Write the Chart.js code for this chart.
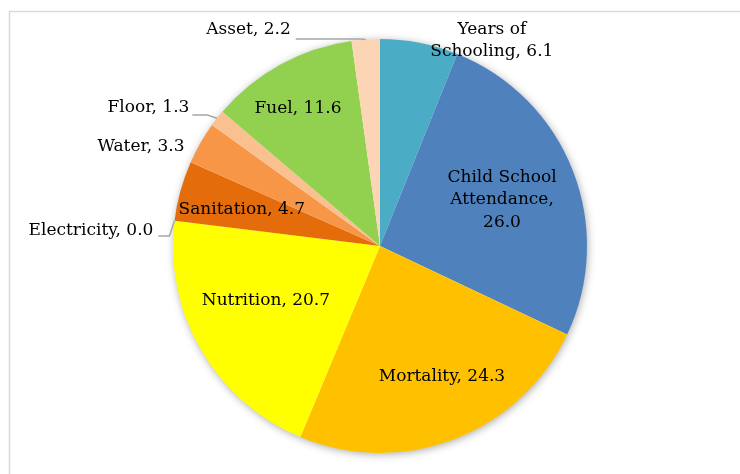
<!DOCTYPE html>
<html>
<head>
<meta charset="utf-8">
<script src="https://cdn.jsdelivr.net/npm/chart.js@4.4.1/dist/chart.umd.min.js"></script>
<style>
  html, body { margin: 0; padding: 0; background: #ffffff; }
  canvas { display: block; }
</style>
</head>
<body>
<canvas id="pie" width="740" height="474"></canvas>
<script>
// Indicator shares of the deprivation index (percent)
const categories = ['Years of Schooling', 'Child School Attendance', 'Mortality', 'Nutrition',
                    'Electricity', 'Sanitation', 'Water', 'Floor', 'Fuel', 'Asset'];
const shares = [6.1, 26.0, 24.3, 20.7, 0.0, 4.7, 3.3, 1.3, 11.6, 2.2];
const sliceColors = ['#4BACC6', '#4F81BD', '#FFC000', '#FFFF00', '#C0504D',
                     '#E46C0A', '#F79646', '#FAC090', '#92D050', '#FCD5B5'];

// Where each data label sits: radius as a fraction of the pie radius,
// angular shift (degrees, clockwise) from the slice's middle, optional wrap width
// and optional leader line back to the slice.
const labelPlacement = [
  { r: 1.13,  da: 17.6,  wrap: 135 },
  { r: 0.63,  da: 0.7,   wrap: 135 },
  { r: 0.70,  da: -4.3 },
  { r: 0.61,  da: 4.8 },
  { r: 1.398, da: -4.04, leader: { dy: 5, gap: 5, run: 11 } },
  { r: 0.69,  da: -0.85 },
  { r: 1.25,  da: -7.3 },
  { r: 1.302, da: -7.3,  leader: { dy: 7, gap: 3, run: 15 } },
  { r: 0.775, da: -2 },
  { r: 1.2217, da: -27.38, leader: { dy: 9, gap: 5, run: 65 } }
];

const LABEL_FONT = '17px "DejaVu Serif"';
const LINE_HEIGHT = 22.5;

function wrapWords(ctx, text, maxWidth) {
  if (!maxWidth) return [text];
  const words = text.split(' ');
  const lines = [];
  let cur = '';
  for (const w of words) {
    const test = cur ? cur + ' ' + w : w;
    if (cur && ctx.measureText(test).width > maxWidth) {
      lines.push(cur);
      cur = w;
    } else {
      cur = test;
    }
  }
  if (cur) lines.push(cur);
  return lines;
}

// White page with the light chart-frame edges
const framePlugin = {
  id: 'frame',
  beforeDraw(chart) {
    const ctx = chart.ctx;
    ctx.save();
    ctx.fillStyle = '#ffffff';
    ctx.fillRect(0, 0, chart.width, chart.height);
    ctx.strokeStyle = '#D9D9D9';
    ctx.lineWidth = 1.5;
    ctx.beginPath();
    ctx.moveTo(9.5, chart.height);
    ctx.lineTo(9.5, 11.5);
    ctx.lineTo(chart.width, 11.5);
    ctx.stroke();
    ctx.restore();
  }
};

// Soft shadow beneath the whole pie
const pieShadowPlugin = {
  id: 'pieShadow',
  beforeDatasetsDraw(chart) {
    const arc = chart.getDatasetMeta(0).data[0];
    if (!arc) return;
    const ctx = chart.ctx;
    ctx.save();
    ctx.shadowColor = 'rgba(0,0,0,0.35)';
    ctx.shadowBlur = 8;
    ctx.shadowOffsetX = 1;
    ctx.shadowOffsetY = 1.5;
    ctx.fillStyle = '#ffffff';
    ctx.beginPath();
    ctx.arc(arc.x, arc.y, arc.outerRadius - 0.5, 0, Math.PI * 2);
    ctx.fill();
    ctx.restore();
  }
};

// "Category, value" labels with leader lines for the thin slices
const sliceLabelPlugin = {
  id: 'sliceLabels',
  afterDatasetsDraw(chart) {
    const ctx = chart.ctx;
    const meta = chart.getDatasetMeta(0);
    ctx.save();
    ctx.font = LABEL_FONT;
    ctx.fillStyle = '#000000';
    ctx.textAlign = 'center';
    ctx.textBaseline = 'middle';
    meta.data.forEach((arc, i) => {
      const p = labelPlacement[i];
      const { x, y, startAngle, endAngle, outerRadius } = arc.getProps(
        ['x', 'y', 'startAngle', 'endAngle', 'outerRadius'], true);
      const mid = (startAngle + endAngle) / 2;
      const a = mid + p.da * Math.PI / 180;
      const cx = x + p.r * outerRadius * Math.cos(a);
      const cy = y + p.r * outerRadius * Math.sin(a);
      const text = categories[i] + ', ' + shares[i].toFixed(1);
      const lines = wrapWords(ctx, text, p.wrap);
      const top = cy - (lines.length - 1) * LINE_HEIGHT / 2;
      let maxW = 0;
      lines.forEach((ln, k) => {
        ctx.fillText(ln, cx, top + k * LINE_HEIGHT);
        maxW = Math.max(maxW, ctx.measureText(ln).width);
      });
      if (p.leader) {
        const L = p.leader;
        const sx = cx + maxW / 2 + L.gap;
        const sy = cy + L.dy;
        const ex = x + outerRadius * Math.cos(mid);
        const ey = y + outerRadius * Math.sin(mid);
        ctx.save();
        ctx.strokeStyle = '#A6A6A6';
        ctx.lineWidth = 1.5;
        ctx.beginPath();
        ctx.moveTo(sx, sy);
        ctx.lineTo(sx + L.run, sy);
        ctx.lineTo(ex, ey);
        ctx.stroke();
        ctx.restore();
      }
    });
    ctx.restore();
  }
};

new Chart(document.getElementById('pie'), {
  type: 'pie',
  data: {
    labels: categories,
    datasets: [{
      data: shares,
      backgroundColor: sliceColors,
      borderWidth: 0
    }]
  },
  options: {
    responsive: false,
    animation: false,
    layout: { padding: { left: 173, right: 153, top: 39, bottom: 21 } },
    plugins: {
      legend: { display: false },
      tooltip: { enabled: false }
    }
  },
  plugins: [framePlugin, pieShadowPlugin, sliceLabelPlugin]
});
</script>
</body>
</html>
